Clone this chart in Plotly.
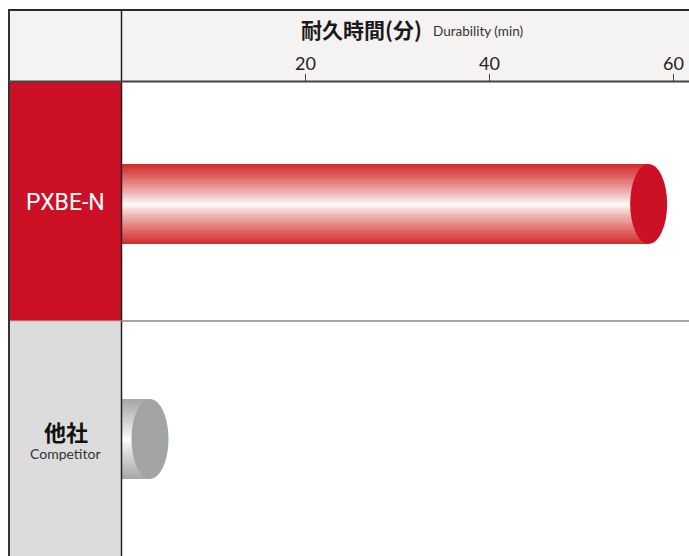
import plotly.graph_objects as go

# ---- data ----
categories = ["PXBE-N", "他社"]
sublabels = ["", "Competitor"]
durability_min = [57.3, 3.1]
tick_values = [20, 40, 60]
tick_labels = ["20", "40", "60"]
title_ja = "耐久時間(分)"
title_en = "Durability (min)"

# ---- layout geometry (page pixels) ----
W, H = 689, 556
X0_PX = 121.5                # pixel of value 0
PX_PER_UNIT = 9.2
X_MAX = (W - X0_PX) / PX_PER_UNIT
TOP_PX = 82                  # top of plot area
SEP_PX = 321
CAT_PX = 235                 # pixels between category centres
TOP_CENTER_PX = 204          # centre of the top category
BAR_W = 80 / CAT_PX          # bar thickness in category units
CAP_HALF = 18.5 / PX_PER_UNIT

edge_colors = [(210, 42, 40), (166, 166, 166)]
cap_colors = ["#cc1126", "#a3a5a4"]
block_colors = ["#cc1126", "#dcdcdc"]
label_colors = ["#ffffff", "#111111"]

cat_order = ["他社", "PXBE-N"]   # bottom -> top
y_idx = [cat_order.index(c) for c in categories]
n_cat = len(cat_order)
y_top = (n_cat - 1) + (TOP_CENTER_PX - TOP_PX) / CAT_PX
y_bot = y_top - (H - TOP_PX) / CAT_PX


def py(p):  # page pixel y -> paper y
    return 1 - p / H


def px(p):  # page pixel x -> paper x
    return p / W


fig = go.Figure()

# gradient cylinder bodies: thin stacked slices
N = 48
for i in range(N):
    t = (i + 0.5) / N
    s = abs(t - 0.5) * 2
    f = s ** 0.85
    cols = []
    for (r, g, b) in edge_colors:
        cols.append("rgb(%d,%d,%d)" % (round(255 + (r - 255) * f),
                                       round(255 + (g - 255) * f),
                                       round(255 + (b - 255) * f)))
    fig.add_trace(go.Bar(
        y=categories, x=durability_min, orientation="h",
        base=0,
        offset=-BAR_W / 2 + i * BAR_W / N,
        width=BAR_W / N * 1.15,
        marker=dict(color=cols, line=dict(width=0)),
        showlegend=False, hoverinfo="skip",
    ))

shapes = []
# header background
shapes.append(dict(type="rect", xref="paper", yref="paper",
                   x0=px(10), x1=1, y0=py(82), y1=py(10),
                   fillcolor="#f4f3f1", line=dict(width=0), layer="below"))
# left column blocks
row_edges = [82, 321, 570]
for k, c in enumerate(categories):
    shapes.append(dict(type="rect", xref="paper", yref="paper",
                       x0=px(10), x1=px(121.5),
                       y0=py(row_edges[k + 1]), y1=py(row_edges[k]),
                       fillcolor=block_colors[k], line=dict(width=0), layer="below"))
# end caps (ellipses)
for k, c in enumerate(categories):
    v = durability_min[k]
    yi = y_idx[k]
    shapes.append(dict(type="circle", xref="x", yref="y",
                       x0=v - CAP_HALF, x1=v + CAP_HALF,
                       y0=yi - BAR_W / 2, y1=yi + BAR_W / 2,
                       fillcolor=cap_colors[k], line=dict(width=0), layer="above"))
# lines
shapes += [
    dict(type="line", xref="paper", yref="paper", x0=px(8), x1=1,
         y0=py(10), y1=py(10), line=dict(color="#2a2a2a", width=2)),
    dict(type="line", xref="paper", yref="paper", x0=px(9), x1=px(9),
         y0=-0.05, y1=py(9), line=dict(color="#333333", width=2)),
    dict(type="line", xref="paper", yref="paper", x0=px(121.5), x1=px(121.5),
         y0=-0.05, y1=py(10), line=dict(color="#222222", width=1.5)),
    dict(type="line", xref="paper", yref="paper", x0=px(9), x1=1,
         y0=py(81.5), y1=py(81.5), line=dict(color="#444444", width=2)),
    dict(type="line", xref="paper", yref="paper", x0=px(121.5), x1=1,
         y0=py(SEP_PX), y1=py(SEP_PX), line=dict(color="#888888", width=1.5)),
    dict(type="line", xref="paper", yref="paper", x0=px(10), x1=px(121.5),
         y0=py(SEP_PX), y1=py(SEP_PX), line=dict(color="#bbbbbb", width=1)),
]

annotations = [
    dict(text="<b>" + title_ja + "</b>", xref="paper", yref="paper",
         x=px(361), y=py(29), xanchor="center", yanchor="middle",
         showarrow=False, font=dict(family="Noto Sans CJK JP", size=21, color="#1a1a1a")),
    dict(text=title_en, xref="paper", yref="paper",
         x=px(431), y=py(31), xanchor="left", yanchor="middle",
         showarrow=False, font=dict(family="Lato", size=13.5, color="#333333")),
]
for k, c in enumerate(categories):
    yi = y_idx[k]
    if sublabels[k]:
        annotations.append(dict(text="<b>" + c + "</b>", xref="paper", yref="y",
                                x=px(65.5), y=yi, yshift=8, showarrow=False,
                                xanchor="center", yanchor="middle",
                                font=dict(family="Noto Sans CJK JP", size=22, color=label_colors[k])))
        annotations.append(dict(text=sublabels[k], xref="paper", yref="y",
                                x=px(65.5), y=yi, yshift=-14, showarrow=False,
                                xanchor="center", yanchor="middle",
                                font=dict(family="Lato", size=14, color="#333333")))
    else:
        annotations.append(dict(text=c, xref="paper", yref="y",
                                x=px(65.5), y=yi, yshift=2, showarrow=False,
                                xanchor="center", yanchor="middle",
                                font=dict(family="Liberation Sans Narrow, Roboto", size=23,
                                          color=label_colors[k])))

fig.update_layout(
    width=W, height=H,
    margin=dict(l=0, r=0, t=0, b=0),
    paper_bgcolor="white", plot_bgcolor="white",
    barmode="overlay", bargap=0,
    shapes=shapes, annotations=annotations,
    xaxis=dict(domain=[X0_PX / W, 1], range=[0, X_MAX], side="top",
               tickvals=tick_values, ticktext=tick_labels,
               ticks="outside", ticklen=7, tickwidth=1, tickcolor="#444444",
               ticklabelstandoff=-3,
               tickfont=dict(family="Lato", size=18, color="#222222"),
               showgrid=False, zeroline=False, showline=False, automargin=False),
    yaxis=dict(domain=[0, 1 - TOP_PX / H], type="category",
               categoryorder="array", categoryarray=cat_order,
               range=[y_bot, y_top],
               showticklabels=False, ticks="", showgrid=False, zeroline=False,
               showline=False, automargin=False),
)

fig.write_html("out.html", config={"displayModeBar": False},
               post_script="document.body.style.margin='0';document.body.style.overflow='hidden';")
